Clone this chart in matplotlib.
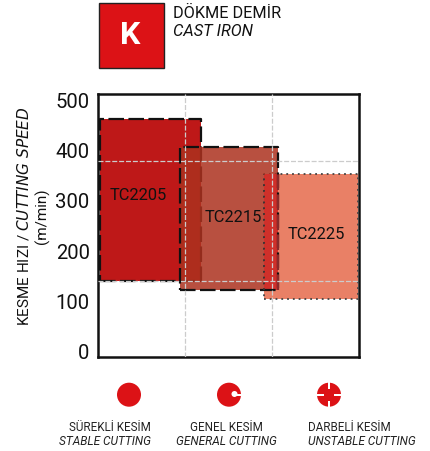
#!/usr/bin/env python3
import matplotlib
matplotlib.use("Agg")
import matplotlib.pyplot as plt
from matplotlib.patches import Circle, Rectangle

plt.rcParams['font.family'] = ['Roboto', 'DejaVu Sans']

# Cutting speed windows (m/min) and cutting-type span on the x axis
grades = ['TC2205', 'TC2215', 'TC2225']
speed_low = [139, 121, 103]
speed_high = [460, 405, 352]
span_left = [0.02, 0.94, 1.91]
span_right = [1.18, 2.07, 2.99]
label_speed = [311, 266, 234]
label_x = [0.465, 1.55, 2.506]
yticks = [0, 100, 200, 300, 400, 500]
grid_speeds = [139, 377]
grid_cuts = [1, 2]

cut_tr = ['SÜREKLİ KESİM', 'GENEL KESİM', 'DARBELİ KESİM']
cut_en = ['STABLE CUTTING', 'GENERAL CUTTING', 'UNSTABLE CUTTING']

W, H = 430, 452
fig = plt.figure(figsize=(W / 100, H / 100), dpi=100)
ax = fig.add_axes([98 / W, 1 - 358 / H, 261 / W, 263 / H])
ax.set_xlim(0, 3)
ax.set_ylim(-12, 510)

# full figure overlay in pixels for the header and icons
ov = fig.add_axes([0, 0, 1, 1], zorder=5)
ov.set_xlim(0, W)
ov.set_ylim(H, 0)
ov.axis('off')

def window(i, color, alpha, ls, lw, z, edge='#111111'):
    ax.bar(span_left[i], speed_high[i] - speed_low[i], span_right[i] - span_left[i],
           bottom=speed_low[i], align='edge', color=color, alpha=alpha, lw=0, zorder=z)
    ax.plot([span_left[i], span_right[i], span_right[i], span_left[i], span_left[i]],
            [speed_low[i], speed_low[i], speed_high[i], speed_high[i], speed_low[i]],
            color=edge, ls=ls, lw=lw, zorder=z + 0.1)

window(0, '#BE1818', 1.0, (0, (7, 2)), 1.6, 2)
window(2, '#E98066', 1.0, (0, (1, 2.2)), 1.3, 3, edge='#444444')
window(1, '#AC311E', 0.85, (0, (7, 2)), 1.6, 4)

# the 2215/2225 overlap reads as a brighter red in the original
ax.bar(span_left[2], speed_high[2] - speed_low[1], span_right[1] - span_left[2],
       bottom=speed_low[1], align='edge', color='#D0302A', lw=0, zorder=4.05)
ax.plot([span_left[2], span_left[2]], [speed_low[1], speed_high[2]], color='#333333',
        ls=(0, (1, 2.2)), lw=1.3, zorder=4.2)
ax.plot([span_right[1], span_right[1]], [speed_low[1], speed_high[2]], color='#8a2a2a',
        ls=(0, (7, 2)), lw=1.6, zorder=4.2)

for s in grid_speeds:
    ax.axhline(s, color='#cccccc', ls=(0, (4, 1.5)), lw=0.9, zorder=6)
for c in grid_cuts:
    ax.axvline(c, color='#cccccc', ls=(0, (4, 1.5)), lw=0.9, zorder=6)

for i, g in enumerate(grades):
    ax.text(label_x[i], label_speed[i], g, fontsize=11.8, color='#111111',
            ha='center', va='center', zorder=7)

ax.set_xticks([])
ax.set_yticks(yticks)
ax.tick_params(axis='y', length=0, pad=6, labelsize=14.6, labelcolor='#111111')
for s in ax.spines.values():
    s.set_linewidth(1.8)
    s.set_color('#111111')

ov.text(24, 216, 'KESME HIZI / $\\mathit{CUTTING\\ SPEED}$', fontsize=11, color='#111111',
        rotation=90, ha='center', va='center', math_fontfamily='custom')
ov.text(42, 216, '(m/min)', fontsize=11, color='#111111', rotation=90, ha='center', va='center')

# header
ov.add_patch(Rectangle((98.5, 3.5), 65, 65, fc='#DC1216', ec='#222222', lw=1))
ov.text(130.5, 35.5, 'K', color='white', fontsize=23, fontweight='bold', ha='center', va='center')
ov.text(173, 13, 'DÖKME DEMİR', fontsize=11.7, color='#111111', ha='left', va='center')
ov.text(173, 31, 'CAST IRON', fontsize=11.8, color='#111111', style='italic', ha='left', va='center')

# cutting type icons and captions
red = '#DC1216'
centers = [129, 229, 329]
for cx in centers:
    ov.add_patch(Circle((cx, 395.7), 12, fc=red, ec='none'))
ov.add_patch(Circle((234.5, 395), 3, fc='white', ec='none', zorder=3))
ov.add_patch(Rectangle((234.5, 394.5), 8, 2.2, fc='white', ec='none', zorder=3))
for x0, y0, w, h in [(316, 394.9, 8, 1.6), (334, 394.9, 8, 1.6), (328.2, 383, 1.6, 6.5), (328.2, 402, 1.6, 6.5)]:
    ov.add_patch(Rectangle((x0, y0), w, h, fc='white', ec='none', zorder=3))

anchors = [(151, 'right'), (226, 'center'), (308, 'left')]
for i in range(3):
    ov.text(anchors[i][0], 428, cut_tr[i], fontsize=8.4, color='#222222', ha=anchors[i][1], va='center')
    ov.text(anchors[i][0], 442, cut_en[i], fontsize=8.6, color='#222222', style='italic',
            ha=anchors[i][1], va='center')

fig.savefig('out.png', dpi=100)
